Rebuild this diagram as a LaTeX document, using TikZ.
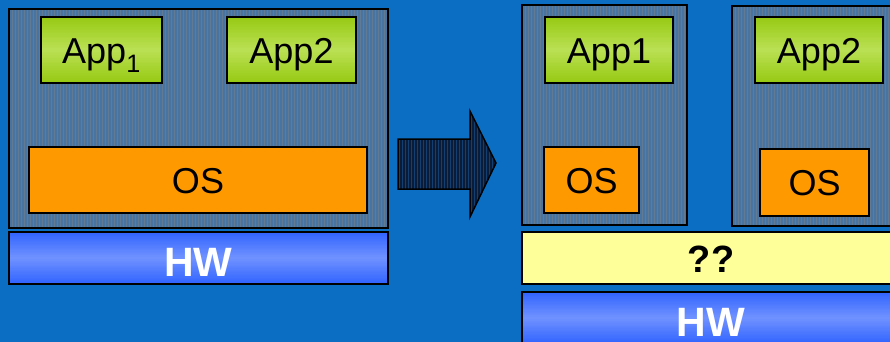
\documentclass[tikz,border=0pt]{standalone}
\usepackage{fontspec}
\setmainfont{Liberation Sans}
\usetikzlibrary{calc}
\definecolor{bgblue}{RGB}{12,110,194}
\definecolor{vmfill}{RGB}{72,116,162}
\definecolor{vmline}{RGB}{130,130,130}
\definecolor{appdark}{RGB}{152,202,20}
\definecolor{applight}{RGB}{186,224,84}
\definecolor{osorange}{RGB}{255,153,0}
\definecolor{hwdark}{RGB}{50,100,255}
\definecolor{hwlight}{RGB}{112,146,255}
\definecolor{qqyellow}{RGB}{255,255,153}
\definecolor{arrfill}{RGB}{10,28,55}
\definecolor{arrline}{RGB}{24,80,140}
\tikzset{
  % vertical gradient: #1 at top and bottom, #2 in the middle
  vgrad/.style 2 args={path picture={
    \foreach \i in {0,...,39} {
      \pgfmathsetmacro{\p}{abs(\i-19.5)/19.5*100}
      \pgfmathsetmacro{\a}{\i/40}
      \pgfmathsetmacro{\b}{(\i+1.3)/40}
      \fill[#1!\p!#2]
        ($(path picture bounding box.north west)!\a!(path picture bounding box.south west)$)
        rectangle
        ($(path picture bounding box.north east)!\b!(path picture bounding box.south east)$);
    }}},
  base/.style={draw=black, rectangle, inner sep=0pt, outer sep=0pt},
  vmbox/.style={base, fill=vmfill, line width=2pt},
  vmgrid/.style={vmline, line width=0.35pt, opacity=0.45},
  appbox/.style={base, line width=1.5pt, vgrad={appdark}{applight},
    font=\fontsize{36}{40}\selectfont, text height=27.5pt, text depth=0pt},
  osbox/.style={base, line width=1.5pt, fill=osorange,
    font=\fontsize{36}{40}\selectfont, text height=26.5pt, text depth=0pt},
  hwbox/.style={base, line width=2pt, vgrad={hwdark}{hwlight},
    text=white, font=\fontsize{41}{44}\selectfont\bfseries, text height=37pt, text depth=0pt},
  qqbox/.style={base, line width=2pt, fill=qqyellow,
    font=\fontsize{38}{42}\selectfont\bfseries, text height=28pt, text depth=0pt},
  bigarrow/.style={draw=black, line width=1.5pt},
  arrgrid/.style={arrline, line width=0.45pt, opacity=0.7},
}
\begin{document}
\begin{tikzpicture}[x=1pt, y=-1pt]
  \useasboundingbox (0,0) rectangle (890,342);
  \clip (0,0) rectangle (890,342);
  \fill[bgblue] (0,0) rectangle (890,342);

  % virtual machine frames
  \node[vmbox, minimum width=379, minimum height=219] (vmL) at (198.5,118.5) {};
  \node[vmbox, minimum width=165, minimum height=220] (vmA) at (604.5,115) {};
  \node[vmbox, minimum width=174, minimum height=220] (vmB) at (819,116) {};
  \foreach \v in {vmL, vmA, vmB} {
    \begin{scope}
      \clip (\v.north west) rectangle (\v.south east);
      \draw[vmgrid, step=3] (\v.north west) grid (\v.south east);
    \end{scope}
    \draw[black, line width=2pt] (\v.north west) rectangle (\v.south east);
  }

  % single machine: applications over one OS
  \node[appbox, minimum width=121, minimum height=66] (appL1) at (101.5,50) {App\textsubscript{1}};
  \node[appbox, minimum width=129, minimum height=66] (appL2) at (291.5,50) {App2};
  \node[osbox, minimum width=338, minimum height=66] (osL) at (198,180) {OS};
  \node[hwbox, minimum width=379, minimum height=52] (hwL) at (198.5,258) {HW};

  % transition arrow
  \begin{scope}
    \path[clip] (398,139) -- (470,139) -- (470,111) -- (496,163) -- (470,217) -- (470,189) -- (398,189) -- cycle;
    \fill[arrfill] (396,108) rectangle (498,220);
    \draw[arrgrid, step=3] (396,108) grid (498,220);
  \end{scope}
  \draw[bigarrow] (398,139) -- (470,139) -- (470,111) -- (496,163) -- (470,217) -- (470,189) -- (398,189) -- cycle;

  % virtualised machine: one OS per application
  \node[appbox, minimum width=128, minimum height=66] (appR1) at (609,50) {App1};
  \node[osbox, minimum width=95, minimum height=66] (osR1) at (591.5,180) {OS};
  \node[appbox, minimum width=128, minimum height=66] (appR2) at (819,50) {App2};
  \node[osbox, minimum width=109, minimum height=67] (osR2) at (814.5,182.5) {OS};
  \node[qqbox, minimum width=378, minimum height=52] (qq) at (711,258) {??};
  \node[hwbox, minimum width=378, minimum height=52] (hwR) at (711,318) {HW};
\end{tikzpicture}
\end{document}
